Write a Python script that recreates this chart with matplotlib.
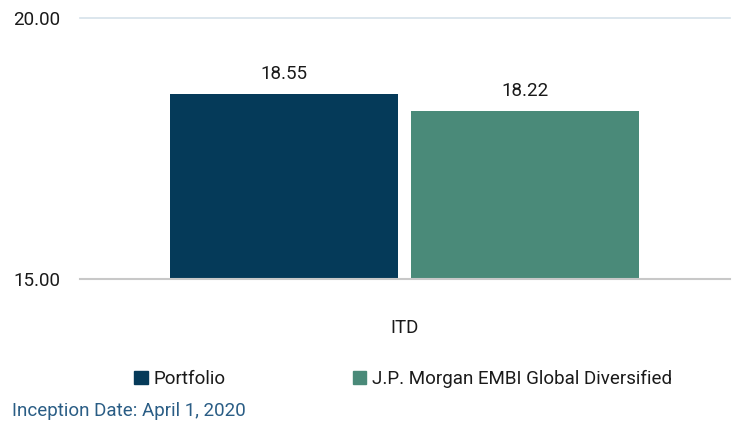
import numpy as np
from matplotlib import pyplot as plt
from matplotlib.patches import Patch

plt.rcParams['font.family'] = ['Roboto', 'DejaVu Sans']

# chart data
series = ["Portfolio", "J.P. Morgan EMBI Global Diversified"]
values = [18.55, 18.22]
category = "ITD"
colors = ["#053a59", "#4a8a79"]
y_ticks = [15.0, 20.0]
footnote = "Inception Date: April 1, 2020"

fs = 13.5
txt_col = "#1a1a1a"

fig = plt.figure(figsize=(7.33, 4.25), dpi=100)
ax = fig.add_axes([80 / 733, 1 - 279 / 425, 650 / 733, 261 / 425])

bar_w = 0.351
offsets = [-0.186, 0.185]
for val, off, col in zip(values, offsets, colors):
    ax.bar(off, val - y_ticks[0], bottom=y_ticks[0], width=bar_w, color=col)
    ax.text(off, val + 0.2, "%.2f" % val, ha="center", va="bottom",
            fontsize=fs, color=txt_col)

ax.set_xlim(-0.5, 0.5)
ax.set_ylim(y_ticks[0], y_ticks[1])
ax.set_yticks(y_ticks)
ax.set_yticklabels(["%.2f" % t for t in y_ticks], fontsize=fs, color=txt_col)
ax.tick_params(axis="y", length=0, pad=14)
ax.set_xticks([0])
ax.set_xticklabels([category], fontsize=fs, color=txt_col)
ax.tick_params(axis="x", length=0, pad=29)
for s in ax.spines.values():
    s.set_visible(False)

# gridlines
ax.axhline(y_ticks[1], color="#d6e2ea", lw=1.2, zorder=0, clip_on=False)
ax.axhline(y_ticks[0], color="#c8c8c8", lw=1.5, zorder=3, clip_on=False)

handles = [Patch(color=c, label=s) for s, c in zip(series, colors)]
fig.legend(handles=handles, loc="center", bbox_to_anchor=(403 / 733, 1 - 379 / 425),
           ncol=2, frameon=False, fontsize=fs, handlelength=0.7, handleheight=0.7,
           handletextpad=0.3, columnspacing=6.8, labelcolor=txt_col)

fig.text(12 / 733, 1 - 411 / 425, footnote, ha="left", va="center",
         fontsize=fs, color="#2a5d85")

fig.savefig("out.png", dpi=100)
